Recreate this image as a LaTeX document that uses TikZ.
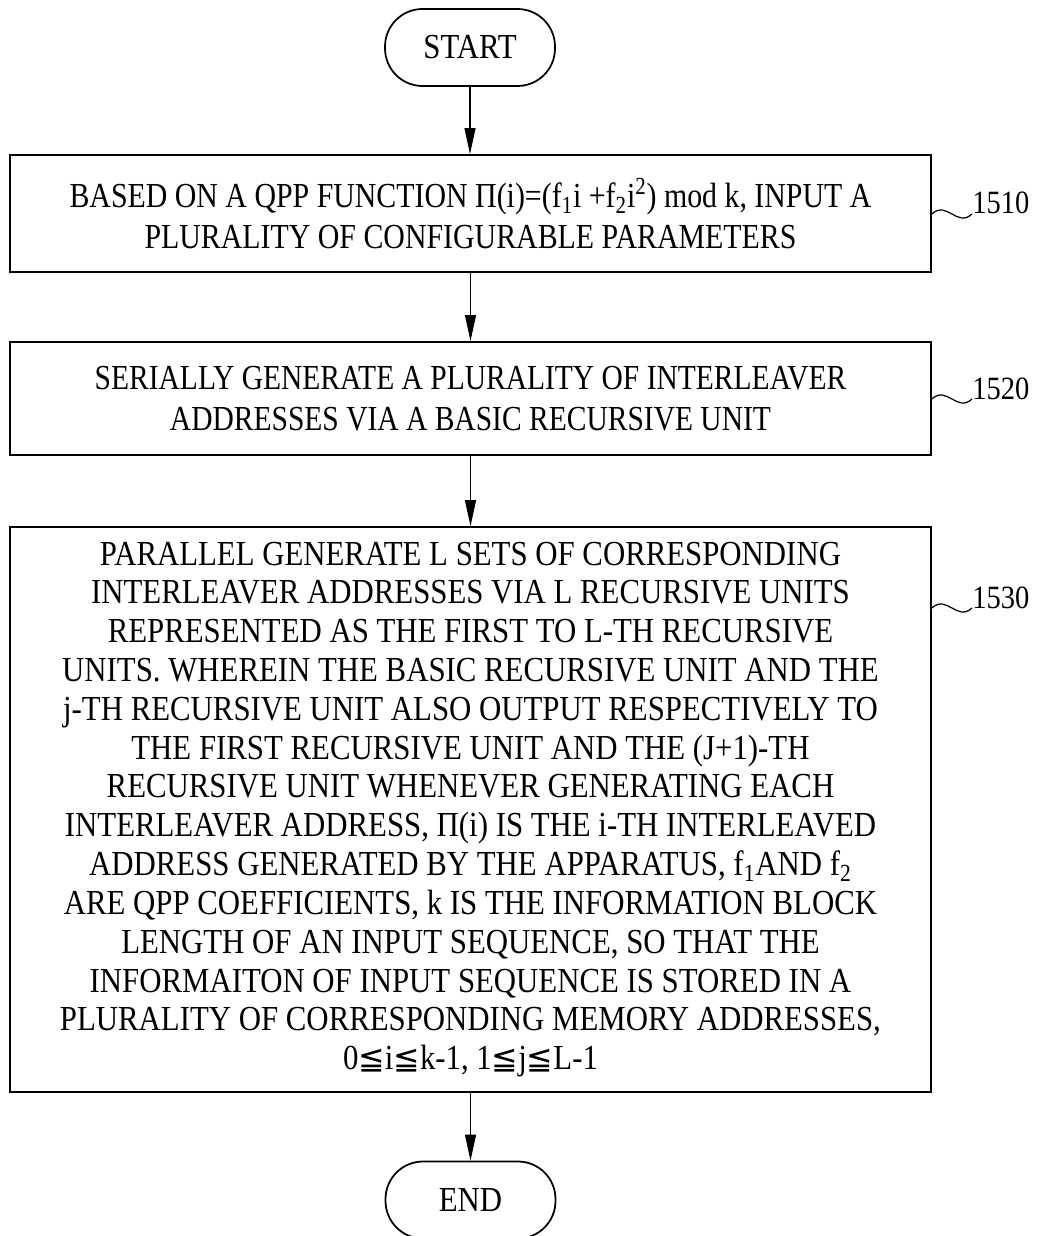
\documentclass[tikz,border=0pt]{standalone}
\usepackage{fontspec}
\setmainfont{Liberation Serif}[FakeStretch=0.877]
\newfontfamily\symfont{DejaVu Sans}[Scale=0.9]
\newcommand{\leqqsym}{{\symfont ≦}}
\usetikzlibrary{arrows.meta}

\begin{document}
\begin{tikzpicture}[x=0.02cm, y=-0.02cm,
		term/.style={draw, line width=1pt, rounded corners=0.75cm,
			minimum width=3.4cm, minimum height=1.54cm},
		stepbox/.style={draw, line width=1.1pt, align=center,
			minimum width=18.42cm},
		narrow/.style={font=\addfontfeature{FakeStretch=#1}},
		tag/.style={inner sep=0pt, anchor=base west, font=\fontsize{18.5}{22}\selectfont},
		flow/.style={-{Triangle[length=0.52cm, width=0.22cm]}, line width=0.6pt},
		tagline/.style={line width=0.7pt}]
	\useasboundingbox (0,0) rectangle (1036,1236);
	\fontsize{20}{23.2}\selectfont

	\node[term] (start) at (470,47.5) {START};
	\node[stepbox, narrow=0.85, minimum height=2.34cm] (b1) at (470.5,213.5)
		{BASED ON A QPP FUNCTION Π(i)=(f\textsubscript{1}i +f\textsubscript{2}i\textsuperscript{2}) mod k, INPUT A\\
		PLURALITY OF CONFIGURABLE PARAMETERS};
	\node[stepbox, narrow=0.84, minimum height=2.26cm] (b2) at (470.5,398.5)
		{SERIALLY GENERATE A PLURALITY OF INTERLEAVER\\
		ADDRESSES VIA A BASIC RECURSIVE UNIT};
	\node[stepbox, minimum height=11.3cm, font=\fontsize{20}{22.1}\selectfont] (b3) at (470.5,809.5)
		{PARALLEL GENERATE L SETS OF CORRESPONDING\\
		INTERLEAVER ADDRESSES VIA L RECURSIVE UNITS\\
		REPRESENTED AS THE FIRST TO L-TH RECURSIVE\\
		UNITS. WHEREIN THE BASIC RECURSIVE UNIT AND THE\\
		j-TH RECURSIVE UNIT ALSO OUTPUT RESPECTIVELY TO\\
		THE FIRST RECURSIVE UNIT AND THE (J+1)-TH\\
		RECURSIVE UNIT WHENEVER GENERATING EACH\\
		INTERLEAVER ADDRESS, Π(i) IS THE i-TH INTERLEAVED\\
		ADDRESS GENERATED BY THE APPARATUS, f\textsubscript{1}AND f\textsubscript{2}\\
		ARE QPP COEFFICIENTS, k IS THE INFORMATION BLOCK\\
		LENGTH OF AN INPUT SEQUENCE, SO THAT THE\\
		INFORMAITON OF INPUT SEQUENCE IS STORED IN A\\
		PLURALITY OF CORRESPONDING MEMORY ADDRESSES,\\
		0\leqqsym i\leqqsym k-1, 1\leqqsym j\leqqsym L-1};
	\node[term] (end) at (470.5,1200) {END};

		%step numbers
	\node[tag] (l1510) at (972,214) {1510};
	\node[tag] (l1520) at (972,399) {1520};
	\node[tag] (l1530) at (972,608) {1530};
	\draw[tagline] (b1.east |- l1510.base) .. controls +(15,-14) and +(-15,14) .. (l1510.base west);
	\draw[tagline] (b2.east |- l1520.base) .. controls +(15,-14) and +(-15,14) .. (l1520.base west);
	\draw[tagline] (b3.east |- l1530.base) .. controls +(15,-14) and +(-15,14) .. (l1530.base west);

		%arrows
	\draw[flow] (start) -- (start |- b1.north);
	\draw[flow] (b1) -- (b2);
	\draw[flow] (b2) -- (b3);
	\draw[flow] (b3) -- (end);
\end{tikzpicture}
\end{document}
